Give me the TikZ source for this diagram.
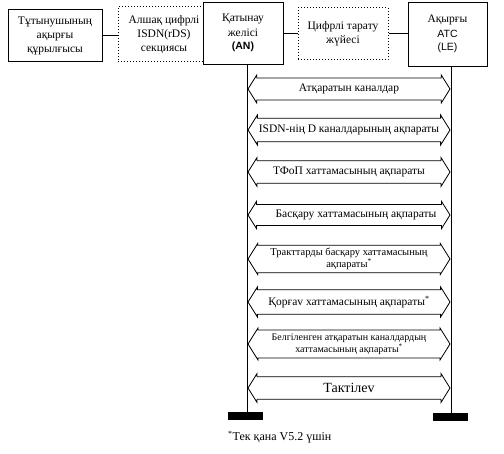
\documentclass[tikz,border=0pt]{standalone}
\usepackage{fontspec}
\setmainfont{Liberation Serif}
\setsansfont{Liberation Sans}
\usetikzlibrary{shapes.arrows,calc}
\begin{document}
\begin{tikzpicture}[x=1pt,y=-1pt,
  solidbox/.style={draw,line width=1pt,inner sep=0pt},
  dotbox/.style={draw,dotted,line width=1pt,inner sep=0pt},
  lbl/.style={font=\fontsize{11.5}{13}\selectfont,align=center,inner sep=0pt},
  dbl/.style={shape=double arrow,draw,line width=0.8pt,minimum height=202pt,
    double arrow head extend=1.5pt,double arrow tip angle=116,inner sep=0pt,
    font=\fontsize{11.5}{12}\selectfont,align=center},
  bar/.style={fill=black,minimum width=35pt,minimum height=8pt,inner sep=0pt}]
\useasboundingbox (0,0) rectangle (504,454);
% top boxes
\node[solidbox,minimum width=94pt,minimum height=52pt] (b1) at (55,36) {};
\node[dotbox,minimum width=92pt,minimum height=55pt] (b2) at (164,34.5) {};
\node[solidbox,fill=white,minimum width=80pt,minimum height=62pt] (b3) at (243,34) {};
\node[dotbox,minimum width=90pt,minimum height=52pt] (b4) at (343,34) {};
\node[solidbox,minimum width=79pt,minimum height=64pt] (b5) at (447.5,35) {};
% texts
\node[lbl] (t1) at (b1) {Тұтынушының\\[1pt]ақырғы\\[1pt]құрылғысы};
\node[lbl] (t2) at (b2) {Алшақ цифрлі\\[1pt]ISDN(rDS)\\[1pt]секциясы};
\node[lbl] (t3a) at (243,19) {Қатынау};
\node[lbl] (t3b) at (243,33) {желісі};
\node[lbl,font=\sffamily\bfseries\fontsize{10.5}{11}\selectfont] (t3c) at (243,46.5) {(AN)};
\node[lbl] (t4) at (b4) {Цифрлі тарату\\[1pt]жүйесі};
\node[lbl] (t5a) at (447.5,20) {Ақырғы};
\node[lbl,font=\sffamily\fontsize{10.5}{11}\selectfont] (t5b) at (447.5,34) {АТС};
\node[lbl,font=\sffamily\fontsize{10.5}{11}\selectfont] (t5c) at (447.5,48) {(LE)};
% connectors
\draw[line width=1pt] (b1.east) -- (b1.east -| b2.west);
\draw[line width=1pt] (b3.east) -- (b3.east -| b4.west);
\draw[line width=1pt] (b4.east) -- (b4.east -| b5.west);
% bars and lifelines
\coordinate (lx) at (247,0);
\coordinate (rx) at (451,0);
\node[bar] (barL) at (245.5,416) {};
\node[bar] (barR) at (450,417) {};
\draw[line width=1pt] (b3.south -| lx) -- (barL.north -| lx);
\draw[line width=1pt] (b5.south -| rx) -- (barR.north -| rx);
% messages
\node[dbl,minimum width=28pt] (m1) at (349,89) {Атқаратын каналдар};
\node[dbl,minimum width=30pt] (m2) at (349,130) {ISDN-нің D каналдарының ақпараты};
\node[dbl,minimum width=29pt] (m3) at (349,172) {ТФоП хаттамасының ақпараты};
\node[dbl,minimum width=27pt] (m4) at (349,215) {\hspace*{14pt}Басқару хаттамасының ақпараты};
\node[dbl,minimum width=31pt,font=\fontsize{10.5}{12}\selectfont] (m5) at (349,259) {Тракттарды басқару хаттамасының\\ақпараты\textsuperscript{*}};
\node[dbl,minimum width=30pt] (m6) at (349,302) {Қорғаv хаттамасының ақпараты\textsuperscript{*}};
\node[dbl,minimum width=32pt,font=\fontsize{10}{12}\selectfont] (m7) at (349,344) {Белгіленген атқаратын каналдардың\\хаттамасының ақпараты\textsuperscript{*}};
\node[dbl,minimum width=29pt,font=\fontsize{14}{15}\selectfont] (m8) at (349,388) {Тактілеv};
% footnote
\node[anchor=west,font=\fontsize{12}{13}\selectfont,inner sep=0pt] (fn) at (228,437) {\textsuperscript{*}Тек қана V5.2 үшін};
\end{tikzpicture}
\end{document}
